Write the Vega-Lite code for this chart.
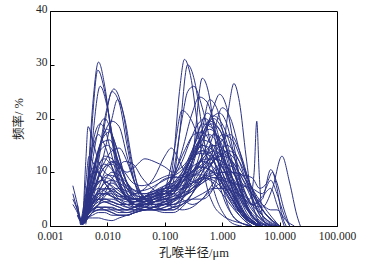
{"$schema":"https://vega.github.io/schema/vega-lite/v6.json","width":287,"height":215,"autosize":"none","padding":{"left":50,"top":11,"right":32,"bottom":46},"config":{"view":{"stroke":"#000","strokeWidth":1},"font":"Liberation Serif, Noto Sans CJK SC","axis":{"grid":false,"domainColor":"#000","tickColor":"#000","labelColor":"#222","titleColor":"#222","labelFont":"Liberation Serif","labelFontSize":11.5,"titleFont":"Liberation Serif, Noto Sans CJK SC","titleFontSize":12.5,"titleFontWeight":"normal"}},"data":{"values":[
{"c":1,"x":0.003,"y":2},{"c":1,"x":0.0037,"y":0.5},{"c":1,"x":0.0045,"y":8},{"c":1,"x":0.0055,"y":22},{"c":1,"x":0.007,"y":30.5},{"c":1,"x":0.009,"y":26},{"c":1,"x":0.012,"y":16},{"c":1,"x":0.016,"y":8},{"c":1,"x":0.022,"y":5},{"c":1,"x":0.03,"y":4},{"c":1,"x":0.045,"y":4.5},{"c":1,"x":0.065,"y":5},{"c":1,"x":0.1,"y":5.5},{"c":1,"x":0.14,"y":6},{"c":1,"x":0.2,"y":8},{"c":1,"x":0.3,"y":10},{"c":1,"x":0.45,"y":11},{"c":1,"x":0.7,"y":10},{"c":1,"x":1,"y":8},{"c":1,"x":1.5,"y":5},{"c":1,"x":2.2,"y":2.5},{"c":1,"x":3.3,"y":0.5},{"c":1,"x":5,"y":0},
{"c":2,"x":0.0037,"y":0.3},{"c":2,"x":0.0045,"y":6},{"c":2,"x":0.0055,"y":20},{"c":2,"x":0.0068,"y":29},{"c":2,"x":0.009,"y":25},{"c":2,"x":0.012,"y":17},{"c":2,"x":0.016,"y":9},{"c":2,"x":0.022,"y":5},{"c":2,"x":0.03,"y":3.5},{"c":2,"x":0.045,"y":3},{"c":2,"x":0.065,"y":3.5},{"c":2,"x":0.1,"y":4},{"c":2,"x":0.14,"y":5},{"c":2,"x":0.2,"y":7},{"c":2,"x":0.3,"y":12},{"c":2,"x":0.45,"y":15},{"c":2,"x":0.7,"y":14},{"c":2,"x":1,"y":10},{"c":2,"x":1.5,"y":6},{"c":2,"x":2.2,"y":3},{"c":2,"x":3.3,"y":1},{"c":2,"x":5,"y":0},
{"c":3,"x":0.003,"y":3},{"c":3,"x":0.0037,"y":1},{"c":3,"x":0.0045,"y":5},{"c":3,"x":0.0055,"y":16},{"c":3,"x":0.0075,"y":26},{"c":3,"x":0.01,"y":22},{"c":3,"x":0.014,"y":13},{"c":3,"x":0.02,"y":7},{"c":3,"x":0.03,"y":5},{"c":3,"x":0.045,"y":5.5},{"c":3,"x":0.065,"y":6},{"c":3,"x":0.1,"y":5},{"c":3,"x":0.14,"y":4},{"c":3,"x":0.2,"y":5},{"c":3,"x":0.3,"y":8},{"c":3,"x":0.45,"y":13},{"c":3,"x":0.7,"y":17},{"c":3,"x":1,"y":16},{"c":3,"x":1.5,"y":11},{"c":3,"x":2.2,"y":6},{"c":3,"x":3.3,"y":2},{"c":3,"x":5,"y":0},
{"c":4,"x":0.0037,"y":0.5},{"c":4,"x":0.0045,"y":3},{"c":4,"x":0.0055,"y":7},{"c":4,"x":0.007,"y":13},{"c":4,"x":0.009,"y":20},{"c":4,"x":0.013,"y":25.5},{"c":4,"x":0.018,"y":22},{"c":4,"x":0.025,"y":13},{"c":4,"x":0.035,"y":7},{"c":4,"x":0.05,"y":5},{"c":4,"x":0.07,"y":5.5},{"c":4,"x":0.1,"y":6},{"c":4,"x":0.14,"y":6},{"c":4,"x":0.2,"y":5},{"c":4,"x":0.3,"y":4},{"c":4,"x":0.45,"y":5},{"c":4,"x":0.7,"y":8},{"c":4,"x":1,"y":10},{"c":4,"x":1.5,"y":9},{"c":4,"x":2.2,"y":6},{"c":4,"x":3.3,"y":3},{"c":4,"x":5,"y":1},{"c":4,"x":7.5,"y":0},
{"c":5,"x":0.004,"y":0.5},{"c":5,"x":0.005,"y":4},{"c":5,"x":0.007,"y":12},{"c":5,"x":0.009,"y":19},{"c":5,"x":0.012,"y":25},{"c":5,"x":0.016,"y":23},{"c":5,"x":0.022,"y":15},{"c":5,"x":0.03,"y":8},{"c":5,"x":0.045,"y":4},{"c":5,"x":0.065,"y":3},{"c":5,"x":0.1,"y":3.5},{"c":5,"x":0.14,"y":4},{"c":5,"x":0.2,"y":5},{"c":5,"x":0.3,"y":7},{"c":5,"x":0.45,"y":9},{"c":5,"x":0.7,"y":8},{"c":5,"x":1,"y":6},{"c":5,"x":1.5,"y":3.5},{"c":5,"x":2.2,"y":1.5},{"c":5,"x":3.3,"y":0},
{"c":6,"x":0.0037,"y":0.2},{"c":6,"x":0.0045,"y":2},{"c":6,"x":0.0055,"y":5},{"c":6,"x":0.007,"y":9},{"c":6,"x":0.009,"y":14},{"c":6,"x":0.012,"y":20},{"c":6,"x":0.015,"y":23.5},{"c":6,"x":0.02,"y":20},{"c":6,"x":0.027,"y":12},{"c":6,"x":0.035,"y":7},{"c":6,"x":0.05,"y":5},{"c":6,"x":0.07,"y":4},{"c":6,"x":0.1,"y":4},{"c":6,"x":0.14,"y":3.5},{"c":6,"x":0.2,"y":3},{"c":6,"x":0.3,"y":3.5},{"c":6,"x":0.45,"y":5},{"c":6,"x":0.7,"y":7},{"c":6,"x":1,"y":8},{"c":6,"x":1.5,"y":6},{"c":6,"x":2.2,"y":3},{"c":6,"x":3.3,"y":1},{"c":6,"x":5,"y":0},
{"c":7,"x":0.0037,"y":0.5},{"c":7,"x":0.0045,"y":4},{"c":7,"x":0.0055,"y":9},{"c":7,"x":0.007,"y":14},{"c":7,"x":0.009,"y":17.5},{"c":7,"x":0.012,"y":19.5},{"c":7,"x":0.016,"y":18.5},{"c":7,"x":0.022,"y":13},{"c":7,"x":0.03,"y":8},{"c":7,"x":0.045,"y":5},{"c":7,"x":0.065,"y":4},{"c":7,"x":0.1,"y":3},{"c":7,"x":0.14,"y":3.5},{"c":7,"x":0.2,"y":6},{"c":7,"x":0.3,"y":12},{"c":7,"x":0.45,"y":16},{"c":7,"x":0.7,"y":15},{"c":7,"x":1,"y":11},{"c":7,"x":1.5,"y":7},{"c":7,"x":2.2,"y":3},{"c":7,"x":3.3,"y":1},{"c":7,"x":5,"y":0},
{"c":8,"x":0.0025,"y":6},{"c":8,"x":0.003,"y":3},{"c":8,"x":0.0036,"y":0.3},{"c":8,"x":0.0042,"y":12},{"c":8,"x":0.0046,"y":18.5},{"c":8,"x":0.0055,"y":16},{"c":8,"x":0.007,"y":12},{"c":8,"x":0.009,"y":10},{"c":8,"x":0.012,"y":9},{"c":8,"x":0.016,"y":7},{"c":8,"x":0.022,"y":5},{"c":8,"x":0.03,"y":4},{"c":8,"x":0.045,"y":4},{"c":8,"x":0.065,"y":5},{"c":8,"x":0.1,"y":6},{"c":8,"x":0.14,"y":7},{"c":8,"x":0.2,"y":9},{"c":8,"x":0.3,"y":11},{"c":8,"x":0.45,"y":12},{"c":8,"x":0.7,"y":11},{"c":8,"x":1,"y":8},{"c":8,"x":1.5,"y":5},{"c":8,"x":2.2,"y":2},{"c":8,"x":3.3,"y":0.5},{"c":8,"x":5,"y":0},
{"c":9,"x":0.0037,"y":0.3},{"c":9,"x":0.0045,"y":5},{"c":9,"x":0.0055,"y":12},{"c":9,"x":0.007,"y":18},{"c":9,"x":0.009,"y":20},{"c":9,"x":0.012,"y":17},{"c":9,"x":0.016,"y":11},{"c":9,"x":0.022,"y":6},{"c":9,"x":0.03,"y":4},{"c":9,"x":0.045,"y":3.5},{"c":9,"x":0.065,"y":4.5},{"c":9,"x":0.1,"y":5},{"c":9,"x":0.14,"y":5},{"c":9,"x":0.2,"y":6},{"c":9,"x":0.3,"y":9},{"c":9,"x":0.45,"y":13},{"c":9,"x":0.7,"y":15},{"c":9,"x":1,"y":13},{"c":9,"x":1.5,"y":9},{"c":9,"x":2.2,"y":5},{"c":9,"x":3.3,"y":2},{"c":9,"x":5,"y":0.5},{"c":9,"x":7.5,"y":0},
{"c":10,"x":0.003,"y":2},{"c":10,"x":0.0037,"y":0.5},{"c":10,"x":0.0045,"y":2},{"c":10,"x":0.0055,"y":3},{"c":10,"x":0.007,"y":3.5},{"c":10,"x":0.009,"y":3},{"c":10,"x":0.012,"y":2.5},{"c":10,"x":0.016,"y":2},{"c":10,"x":0.022,"y":2},{"c":10,"x":0.03,"y":2.5},{"c":10,"x":0.045,"y":3},{"c":10,"x":0.065,"y":3.5},{"c":10,"x":0.1,"y":5},{"c":10,"x":0.14,"y":12},{"c":10,"x":0.18,"y":25},{"c":10,"x":0.22,"y":31},{"c":10,"x":0.28,"y":28},{"c":10,"x":0.38,"y":18},{"c":10,"x":0.5,"y":9},{"c":10,"x":0.7,"y":4},{"c":10,"x":1,"y":2},{"c":10,"x":1.5,"y":1},{"c":10,"x":2.2,"y":0.5},{"c":10,"x":3.3,"y":0},
{"c":11,"x":0.0037,"y":0.5},{"c":11,"x":0.0045,"y":3},{"c":11,"x":0.0055,"y":4.5},{"c":11,"x":0.007,"y":5},{"c":11,"x":0.009,"y":4.5},{"c":11,"x":0.012,"y":4},{"c":11,"x":0.016,"y":3.5},{"c":11,"x":0.022,"y":3},{"c":11,"x":0.03,"y":3.5},{"c":11,"x":0.045,"y":4},{"c":11,"x":0.065,"y":4},{"c":11,"x":0.1,"y":4.5},{"c":11,"x":0.14,"y":8},{"c":11,"x":0.18,"y":17},{"c":11,"x":0.25,"y":30},{"c":11,"x":0.33,"y":27},{"c":11,"x":0.45,"y":18},{"c":11,"x":0.6,"y":10},{"c":11,"x":0.8,"y":5},{"c":11,"x":1.1,"y":2},{"c":11,"x":1.5,"y":0.5},{"c":11,"x":2.2,"y":0},
{"c":12,"x":0.0037,"y":0.5},{"c":12,"x":0.0045,"y":4},{"c":12,"x":0.0055,"y":6},{"c":12,"x":0.007,"y":7},{"c":12,"x":0.009,"y":6.5},{"c":12,"x":0.012,"y":5.5},{"c":12,"x":0.016,"y":4.5},{"c":12,"x":0.022,"y":4},{"c":12,"x":0.03,"y":4},{"c":12,"x":0.045,"y":4.5},{"c":12,"x":0.065,"y":5},{"c":12,"x":0.1,"y":6},{"c":12,"x":0.14,"y":10},{"c":12,"x":0.2,"y":20},{"c":12,"x":0.25,"y":25},{"c":12,"x":0.32,"y":26},{"c":12,"x":0.45,"y":22},{"c":12,"x":0.7,"y":13},{"c":12,"x":1,"y":6},{"c":12,"x":1.5,"y":2},{"c":12,"x":2.2,"y":0.5},{"c":12,"x":3.3,"y":0},
{"c":13,"x":0.0037,"y":0.3},{"c":13,"x":0.0045,"y":2},{"c":13,"x":0.0055,"y":3},{"c":13,"x":0.007,"y":4},{"c":13,"x":0.009,"y":4.5},{"c":13,"x":0.012,"y":4},{"c":13,"x":0.016,"y":3.5},{"c":13,"x":0.022,"y":3},{"c":13,"x":0.03,"y":3},{"c":13,"x":0.045,"y":3.5},{"c":13,"x":0.065,"y":3.5},{"c":13,"x":0.1,"y":3},{"c":13,"x":0.14,"y":3},{"c":13,"x":0.2,"y":5},{"c":13,"x":0.3,"y":12},{"c":13,"x":0.45,"y":27.5},{"c":13,"x":0.6,"y":24},{"c":13,"x":0.8,"y":14},{"c":13,"x":1.1,"y":6},{"c":13,"x":1.5,"y":2},{"c":13,"x":2.2,"y":0.5},{"c":13,"x":3.3,"y":0},
{"c":14,"x":0.0037,"y":0.5},{"c":14,"x":0.0045,"y":1.5},{"c":14,"x":0.0055,"y":2.5},{"c":14,"x":0.007,"y":3},{"c":14,"x":0.009,"y":3},{"c":14,"x":0.012,"y":2.5},{"c":14,"x":0.016,"y":2},{"c":14,"x":0.022,"y":2},{"c":14,"x":0.03,"y":2.5},{"c":14,"x":0.045,"y":3},{"c":14,"x":0.065,"y":3.5},{"c":14,"x":0.1,"y":4},{"c":14,"x":0.14,"y":4},{"c":14,"x":0.2,"y":4.5},{"c":14,"x":0.3,"y":5},{"c":14,"x":0.45,"y":5},{"c":14,"x":0.7,"y":7},{"c":14,"x":1,"y":13},{"c":14,"x":1.3,"y":22},{"c":14,"x":1.6,"y":26.5},{"c":14,"x":2,"y":23},{"c":14,"x":2.6,"y":13},{"c":14,"x":3.3,"y":5},{"c":14,"x":4.2,"y":1},{"c":14,"x":5,"y":0},
{"c":15,"x":0.003,"y":3},{"c":15,"x":0.0037,"y":0.5},{"c":15,"x":0.0045,"y":3},{"c":15,"x":0.0055,"y":5},{"c":15,"x":0.007,"y":6},{"c":15,"x":0.009,"y":6},{"c":15,"x":0.012,"y":5.5},{"c":15,"x":0.016,"y":5},{"c":15,"x":0.022,"y":5},{"c":15,"x":0.03,"y":5},{"c":15,"x":0.045,"y":5.5},{"c":15,"x":0.065,"y":6},{"c":15,"x":0.1,"y":7},{"c":15,"x":0.14,"y":9},{"c":15,"x":0.2,"y":14},{"c":15,"x":0.3,"y":21},{"c":15,"x":0.4,"y":24},{"c":15,"x":0.55,"y":23},{"c":15,"x":0.75,"y":18},{"c":15,"x":1,"y":12},{"c":15,"x":1.5,"y":6},{"c":15,"x":2.2,"y":2},{"c":15,"x":3.3,"y":0.5},{"c":15,"x":5,"y":0},
{"c":16,"x":0.0037,"y":0.2},{"c":16,"x":0.0045,"y":1.5},{"c":16,"x":0.0055,"y":2.5},{"c":16,"x":0.007,"y":3},{"c":16,"x":0.009,"y":3.5},{"c":16,"x":0.012,"y":3.5},{"c":16,"x":0.016,"y":3},{"c":16,"x":0.022,"y":3},{"c":16,"x":0.03,"y":3.5},{"c":16,"x":0.045,"y":4},{"c":16,"x":0.065,"y":4},{"c":16,"x":0.1,"y":4.5},{"c":16,"x":0.14,"y":5},{"c":16,"x":0.2,"y":6},{"c":16,"x":0.3,"y":9},{"c":16,"x":0.45,"y":15},{"c":16,"x":0.7,"y":22},{"c":16,"x":0.9,"y":24.5},{"c":16,"x":1.2,"y":22},{"c":16,"x":1.6,"y":15},{"c":16,"x":2.2,"y":7},{"c":16,"x":3.3,"y":2},{"c":16,"x":5,"y":0},
{"c":17,"x":0.0037,"y":0.3},{"c":17,"x":0.0045,"y":2.5},{"c":17,"x":0.0055,"y":4},{"c":17,"x":0.007,"y":5},{"c":17,"x":0.009,"y":5},{"c":17,"x":0.012,"y":4.5},{"c":17,"x":0.016,"y":4},{"c":17,"x":0.022,"y":4},{"c":17,"x":0.03,"y":4.5},{"c":17,"x":0.045,"y":5},{"c":17,"x":0.065,"y":5.5},{"c":17,"x":0.1,"y":6},{"c":17,"x":0.14,"y":6},{"c":17,"x":0.2,"y":7},{"c":17,"x":0.3,"y":11},{"c":17,"x":0.45,"y":18},{"c":17,"x":0.6,"y":23.5},{"c":17,"x":0.8,"y":22},{"c":17,"x":1.1,"y":16},{"c":17,"x":1.5,"y":9},{"c":17,"x":2.2,"y":3.5},{"c":17,"x":3.3,"y":1},{"c":17,"x":5,"y":0},
{"c":18,"x":0.0037,"y":0.5},{"c":18,"x":0.0045,"y":3},{"c":18,"x":0.0055,"y":5},{"c":18,"x":0.007,"y":6.5},{"c":18,"x":0.009,"y":7},{"c":18,"x":0.012,"y":6.5},{"c":18,"x":0.016,"y":5.5},{"c":18,"x":0.022,"y":5},{"c":18,"x":0.03,"y":5},{"c":18,"x":0.045,"y":5.5},{"c":18,"x":0.065,"y":6},{"c":18,"x":0.1,"y":6.5},{"c":18,"x":0.14,"y":6.5},{"c":18,"x":0.2,"y":7},{"c":18,"x":0.3,"y":8},{"c":18,"x":0.45,"y":11},{"c":18,"x":0.7,"y":17},{"c":18,"x":1,"y":22},{"c":18,"x":1.4,"y":20},{"c":18,"x":2,"y":14},{"c":18,"x":3,"y":7},{"c":18,"x":4.5,"y":2},{"c":18,"x":6.5,"y":0},
{"c":19,"x":0.0037,"y":0.3},{"c":19,"x":0.0045,"y":3},{"c":19,"x":0.0055,"y":5},{"c":19,"x":0.007,"y":6},{"c":19,"x":0.009,"y":6},{"c":19,"x":0.012,"y":5.5},{"c":19,"x":0.016,"y":5},{"c":19,"x":0.022,"y":4.5},{"c":19,"x":0.03,"y":4.5},{"c":19,"x":0.045,"y":5},{"c":19,"x":0.065,"y":5.5},{"c":19,"x":0.1,"y":7},{"c":19,"x":0.14,"y":13},{"c":19,"x":0.2,"y":21.5},{"c":19,"x":0.28,"y":20},{"c":19,"x":0.4,"y":16},{"c":19,"x":0.6,"y":12},{"c":19,"x":0.9,"y":8},{"c":19,"x":1.3,"y":5},{"c":19,"x":2,"y":2.5},{"c":19,"x":3,"y":1},{"c":19,"x":4.5,"y":0},
{"c":20,"x":0.0037,"y":0.5},{"c":20,"x":0.0045,"y":2},{"c":20,"x":0.0055,"y":3},{"c":20,"x":0.007,"y":4},{"c":20,"x":0.009,"y":4.5},{"c":20,"x":0.012,"y":4.5},{"c":20,"x":0.016,"y":4},{"c":20,"x":0.022,"y":3.5},{"c":20,"x":0.03,"y":3.5},{"c":20,"x":0.045,"y":4},{"c":20,"x":0.065,"y":4.5},{"c":20,"x":0.1,"y":5},{"c":20,"x":0.14,"y":5.5},{"c":20,"x":0.2,"y":6},{"c":20,"x":0.3,"y":7},{"c":20,"x":0.45,"y":8},{"c":20,"x":0.7,"y":9},{"c":20,"x":1,"y":9},{"c":20,"x":1.5,"y":8},{"c":20,"x":2.2,"y":6},{"c":20,"x":3,"y":5},{"c":20,"x":3.6,"y":10},{"c":20,"x":4,"y":19.5},{"c":20,"x":4.4,"y":10},{"c":20,"x":5,"y":2},{"c":20,"x":6,"y":0},
{"c":21,"x":0.0037,"y":0.5},{"c":21,"x":0.0045,"y":1.5},{"c":21,"x":0.0055,"y":2},{"c":21,"x":0.007,"y":2.5},{"c":21,"x":0.009,"y":2.5},{"c":21,"x":0.012,"y":2},{"c":21,"x":0.016,"y":2},{"c":21,"x":0.022,"y":2},{"c":21,"x":0.03,"y":2.5},{"c":21,"x":0.045,"y":3},{"c":21,"x":0.065,"y":3},{"c":21,"x":0.1,"y":3},{"c":21,"x":0.14,"y":3.5},{"c":21,"x":0.2,"y":4},{"c":21,"x":0.3,"y":5},{"c":21,"x":0.45,"y":6},{"c":21,"x":0.7,"y":7},{"c":21,"x":1,"y":7},{"c":21,"x":1.5,"y":6.5},{"c":21,"x":2.2,"y":5.5},{"c":21,"x":3.3,"y":4},{"c":21,"x":5,"y":3.5},{"c":21,"x":7.5,"y":7},{"c":21,"x":11,"y":13},{"c":21,"x":15,"y":8},{"c":21,"x":20,"y":2},{"c":21,"x":23,"y":0},
{"c":22,"x":0.004,"y":0.5},{"c":22,"x":0.0045,"y":2},{"c":22,"x":0.0055,"y":3.5},{"c":22,"x":0.007,"y":4.5},{"c":22,"x":0.009,"y":5},{"c":22,"x":0.012,"y":5},{"c":22,"x":0.016,"y":4.5},{"c":22,"x":0.022,"y":4},{"c":22,"x":0.03,"y":4},{"c":22,"x":0.045,"y":4.5},{"c":22,"x":0.065,"y":5},{"c":22,"x":0.1,"y":5},{"c":22,"x":0.14,"y":5},{"c":22,"x":0.2,"y":5.5},{"c":22,"x":0.3,"y":6.5},{"c":22,"x":0.45,"y":8},{"c":22,"x":0.7,"y":10},{"c":22,"x":1,"y":11},{"c":22,"x":1.5,"y":10},{"c":22,"x":2.2,"y":7},{"c":22,"x":3.3,"y":4},{"c":22,"x":5,"y":5},{"c":22,"x":7,"y":10.5},{"c":22,"x":9,"y":8},{"c":22,"x":12,"y":3},{"c":22,"x":15,"y":0},
{"c":23,"x":0.0037,"y":0.5},{"c":23,"x":0.0045,"y":4},{"c":23,"x":0.0055,"y":8},{"c":23,"x":0.007,"y":11},{"c":23,"x":0.009,"y":13},{"c":23,"x":0.012,"y":12.5},{"c":23,"x":0.016,"y":10},{"c":23,"x":0.022,"y":7},{"c":23,"x":0.03,"y":5},{"c":23,"x":0.045,"y":4.5},{"c":23,"x":0.065,"y":5},{"c":23,"x":0.1,"y":5.5},{"c":23,"x":0.14,"y":6},{"c":23,"x":0.2,"y":9},{"c":23,"x":0.3,"y":14},{"c":23,"x":0.45,"y":19},{"c":23,"x":0.7,"y":18},{"c":23,"x":1,"y":14},{"c":23,"x":1.5,"y":8},{"c":23,"x":2.2,"y":3},{"c":23,"x":3.3,"y":1},{"c":23,"x":5,"y":0},
{"c":24,"x":0.003,"y":4},{"c":24,"x":0.0037,"y":0.5},{"c":24,"x":0.0045,"y":5},{"c":24,"x":0.0055,"y":10},{"c":24,"x":0.007,"y":13.5},{"c":24,"x":0.01,"y":15},{"c":24,"x":0.014,"y":13},{"c":24,"x":0.02,"y":9},{"c":24,"x":0.03,"y":6},{"c":24,"x":0.045,"y":5},{"c":24,"x":0.065,"y":4.5},{"c":24,"x":0.1,"y":4.5},{"c":24,"x":0.14,"y":5},{"c":24,"x":0.2,"y":5.5},{"c":24,"x":0.3,"y":6.5},{"c":24,"x":0.45,"y":8.5},{"c":24,"x":0.7,"y":12},{"c":24,"x":1.2,"y":15},{"c":24,"x":1.8,"y":13},{"c":24,"x":2.7,"y":8},{"c":24,"x":4,"y":3},{"c":24,"x":6,"y":0.5},{"c":24,"x":8,"y":0},
{"c":25,"x":0.0037,"y":0.3},{"c":25,"x":0.0045,"y":3},{"c":25,"x":0.0055,"y":6},{"c":25,"x":0.007,"y":9},{"c":25,"x":0.009,"y":11},{"c":25,"x":0.012,"y":12},{"c":25,"x":0.016,"y":11},{"c":25,"x":0.022,"y":10},{"c":25,"x":0.03,"y":11},{"c":25,"x":0.045,"y":12.5},{"c":25,"x":0.065,"y":12},{"c":25,"x":0.1,"y":11},{"c":25,"x":0.14,"y":10},{"c":25,"x":0.2,"y":11},{"c":25,"x":0.3,"y":13},{"c":25,"x":0.45,"y":14},{"c":25,"x":0.7,"y":12},{"c":25,"x":1,"y":9},{"c":25,"x":1.5,"y":5},{"c":25,"x":2.2,"y":2},{"c":25,"x":3.3,"y":0.5},{"c":25,"x":5,"y":0},
{"c":26,"x":0.0037,"y":0.5},{"c":26,"x":0.0045,"y":2.5},{"c":26,"x":0.0055,"y":4},{"c":26,"x":0.007,"y":5.5},{"c":26,"x":0.009,"y":6},{"c":26,"x":0.012,"y":6},{"c":26,"x":0.016,"y":5.5},{"c":26,"x":0.022,"y":5.5},{"c":26,"x":0.03,"y":6},{"c":26,"x":0.045,"y":7},{"c":26,"x":0.065,"y":9},{"c":26,"x":0.1,"y":13},{"c":26,"x":0.13,"y":14.5},{"c":26,"x":0.18,"y":12},{"c":26,"x":0.25,"y":9},{"c":26,"x":0.35,"y":8},{"c":26,"x":0.5,"y":9},{"c":26,"x":0.7,"y":10},{"c":26,"x":1,"y":9},{"c":26,"x":1.5,"y":6},{"c":26,"x":2.2,"y":3},{"c":26,"x":3.3,"y":1},{"c":26,"x":5,"y":0},
{"c":27,"x":0.0025,"y":7.5},{"c":27,"x":0.003,"y":4},{"c":27,"x":0.0035,"y":0.5},{"c":27,"x":0.0045,"y":1.5},{"c":27,"x":0.0055,"y":1.5},{"c":27,"x":0.007,"y":1.5},{"c":27,"x":0.009,"y":1.2},{"c":27,"x":0.012,"y":1},{"c":27,"x":0.016,"y":1.5},{"c":27,"x":0.022,"y":2},{"c":27,"x":0.03,"y":2.5},{"c":27,"x":0.045,"y":3},{"c":27,"x":0.065,"y":3},{"c":27,"x":0.1,"y":3},{"c":27,"x":0.14,"y":3.5},{"c":27,"x":0.2,"y":4},{"c":27,"x":0.3,"y":6},{"c":27,"x":0.45,"y":9},{"c":27,"x":0.7,"y":12},{"c":27,"x":1,"y":13},{"c":27,"x":1.5,"y":12},{"c":27,"x":2.2,"y":9},{"c":27,"x":3.3,"y":5},{"c":27,"x":5,"y":2},{"c":27,"x":7.5,"y":0.5},{"c":27,"x":10,"y":0},
{"c":28,"x":0.0037,"y":0.5},{"c":28,"x":0.0045,"y":2},{"c":28,"x":0.0055,"y":3.5},{"c":28,"x":0.007,"y":5},{"c":28,"x":0.009,"y":7},{"c":28,"x":0.012,"y":8},{"c":28,"x":0.016,"y":7},{"c":28,"x":0.022,"y":5.5},{"c":28,"x":0.03,"y":4},{"c":28,"x":0.045,"y":3.5},{"c":28,"x":0.065,"y":3},{"c":28,"x":0.1,"y":2.5},{"c":28,"x":0.14,"y":2.5},{"c":28,"x":0.2,"y":3.5},{"c":28,"x":0.3,"y":6},{"c":28,"x":0.45,"y":10},{"c":28,"x":0.7,"y":14},{"c":28,"x":1,"y":17},{"c":28,"x":1.5,"y":16},{"c":28,"x":2.2,"y":12},{"c":28,"x":3.3,"y":7},{"c":28,"x":5,"y":3},{"c":28,"x":7.5,"y":1},{"c":28,"x":10,"y":0},
{"c":29,"x":0.0037,"y":0.5},{"c":29,"x":0.0045,"y":7},{"c":29,"x":0.0055,"y":14},{"c":29,"x":0.007,"y":17},{"c":29,"x":0.009,"y":15},{"c":29,"x":0.012,"y":11},{"c":29,"x":0.016,"y":7.5},{"c":29,"x":0.022,"y":5},{"c":29,"x":0.03,"y":4},{"c":29,"x":0.045,"y":4},{"c":29,"x":0.065,"y":4},{"c":29,"x":0.1,"y":4.5},{"c":29,"x":0.14,"y":6},{"c":29,"x":0.2,"y":9},{"c":29,"x":0.3,"y":13},{"c":29,"x":0.45,"y":15},{"c":29,"x":0.6,"y":14},{"c":29,"x":0.8,"y":11},{"c":29,"x":1.1,"y":7},{"c":29,"x":1.5,"y":4},{"c":29,"x":2.2,"y":1.5},{"c":29,"x":3.3,"y":0},
{"c":30,"x":0.0037,"y":0.3},{"c":30,"x":0.0045,"y":2},{"c":30,"x":0.0055,"y":4},{"c":30,"x":0.007,"y":6},{"c":30,"x":0.009,"y":8.5},{"c":30,"x":0.012,"y":10},{"c":30,"x":0.016,"y":9.5},{"c":30,"x":0.022,"y":8},{"c":30,"x":0.03,"y":6.5},{"c":30,"x":0.045,"y":6},{"c":30,"x":0.065,"y":6.5},{"c":30,"x":0.1,"y":7},{"c":30,"x":0.14,"y":8},{"c":30,"x":0.2,"y":10},{"c":30,"x":0.3,"y":12.5},{"c":30,"x":0.45,"y":14},{"c":30,"x":0.7,"y":13},{"c":30,"x":1,"y":11},{"c":30,"x":1.5,"y":8},{"c":30,"x":2.2,"y":5.5},{"c":30,"x":3.3,"y":4},{"c":30,"x":5,"y":5.5},{"c":30,"x":7,"y":7},{"c":30,"x":9,"y":4},{"c":30,"x":12,"y":0},
{"c":31,"x":0.0037,"y":0.5},{"c":31,"x":0.0045,"y":3},{"c":31,"x":0.0055,"y":6},{"c":31,"x":0.007,"y":8},{"c":31,"x":0.009,"y":9},{"c":31,"x":0.012,"y":8.5},{"c":31,"x":0.016,"y":7},{"c":31,"x":0.022,"y":5.5},{"c":31,"x":0.03,"y":5},{"c":31,"x":0.045,"y":5},{"c":31,"x":0.065,"y":5.5},{"c":31,"x":0.1,"y":6},{"c":31,"x":0.14,"y":7},{"c":31,"x":0.2,"y":8.5},{"c":31,"x":0.3,"y":10},{"c":31,"x":0.45,"y":11.5},{"c":31,"x":0.7,"y":12.5},{"c":31,"x":1,"y":12},{"c":31,"x":1.5,"y":10},{"c":31,"x":2.2,"y":8},{"c":31,"x":3.3,"y":6},{"c":31,"x":5,"y":4},{"c":31,"x":7,"y":3},{"c":31,"x":9,"y":3},{"c":31,"x":13,"y":1},{"c":31,"x":18,"y":0},
{"c":32,"x":0.0025,"y":5},{"c":32,"x":0.003,"y":3},{"c":32,"x":0.0036,"y":0.5},{"c":32,"x":0.0042,"y":8},{"c":32,"x":0.0048,"y":13},{"c":32,"x":0.0055,"y":12},{"c":32,"x":0.007,"y":10},{"c":32,"x":0.009,"y":8.5},{"c":32,"x":0.012,"y":7.5},{"c":32,"x":0.016,"y":6.5},{"c":32,"x":0.022,"y":5.5},{"c":32,"x":0.03,"y":5},{"c":32,"x":0.045,"y":5.5},{"c":32,"x":0.065,"y":6},{"c":32,"x":0.1,"y":6},{"c":32,"x":0.14,"y":6.5},{"c":32,"x":0.2,"y":8},{"c":32,"x":0.3,"y":12},{"c":32,"x":0.45,"y":17},{"c":32,"x":0.7,"y":20},{"c":32,"x":1,"y":18},{"c":32,"x":1.5,"y":12},{"c":32,"x":2.2,"y":6},{"c":32,"x":3.3,"y":2},{"c":32,"x":5,"y":0},
{"c":33,"x":0.0037,"y":0.5},{"c":33,"x":0.0045,"y":3},{"c":33,"x":0.0055,"y":6},{"c":33,"x":0.007,"y":9.5},{"c":33,"x":0.009,"y":12},{"c":33,"x":0.012,"y":14},{"c":33,"x":0.016,"y":14.5},{"c":33,"x":0.022,"y":12},{"c":33,"x":0.03,"y":8},{"c":33,"x":0.045,"y":5},{"c":33,"x":0.065,"y":3.5},{"c":33,"x":0.1,"y":3},{"c":33,"x":0.14,"y":3},{"c":33,"x":0.2,"y":4},{"c":33,"x":0.3,"y":6},{"c":33,"x":0.45,"y":9},{"c":33,"x":0.7,"y":12},{"c":33,"x":1,"y":13.5},{"c":33,"x":1.5,"y":12},{"c":33,"x":2.2,"y":9},{"c":33,"x":3.3,"y":6},{"c":33,"x":5,"y":3},{"c":33,"x":7.5,"y":1},{"c":33,"x":10,"y":0},
{"c":34,"x":0.0037,"y":0.3},{"c":34,"x":0.0045,"y":1.5},{"c":34,"x":0.0055,"y":2.5},{"c":34,"x":0.007,"y":3},{"c":34,"x":0.009,"y":3},{"c":34,"x":0.012,"y":3},{"c":34,"x":0.016,"y":3},{"c":34,"x":0.022,"y":3},{"c":34,"x":0.03,"y":3.5},{"c":34,"x":0.045,"y":4},{"c":34,"x":0.065,"y":4.5},{"c":34,"x":0.1,"y":5},{"c":34,"x":0.14,"y":6},{"c":34,"x":0.2,"y":8},{"c":34,"x":0.3,"y":12},{"c":34,"x":0.45,"y":17},{"c":34,"x":0.7,"y":20.5},{"c":34,"x":1,"y":19},{"c":34,"x":1.5,"y":14},{"c":34,"x":2.2,"y":8},{"c":34,"x":3.3,"y":3.5},{"c":34,"x":5,"y":1},{"c":34,"x":7.5,"y":0},
{"c":35,"x":0.0037,"y":0.5},{"c":35,"x":0.0045,"y":4},{"c":35,"x":0.0055,"y":7.5},{"c":35,"x":0.007,"y":10.5},{"c":35,"x":0.009,"y":11.5},{"c":35,"x":0.012,"y":10.5},{"c":35,"x":0.016,"y":8},{"c":35,"x":0.022,"y":6},{"c":35,"x":0.03,"y":5},{"c":35,"x":0.045,"y":5.5},{"c":35,"x":0.065,"y":6.5},{"c":35,"x":0.1,"y":7.5},{"c":35,"x":0.14,"y":8},{"c":35,"x":0.2,"y":9},{"c":35,"x":0.3,"y":9.5},{"c":35,"x":0.45,"y":9.5},{"c":35,"x":0.7,"y":9},{"c":35,"x":1,"y":8.5},{"c":35,"x":1.5,"y":8},{"c":35,"x":2.2,"y":7.5},{"c":35,"x":3.3,"y":7},{"c":35,"x":5,"y":6},{"c":35,"x":7,"y":8.5},{"c":35,"x":9,"y":6},{"c":35,"x":12,"y":2},{"c":35,"x":15,"y":0},
{"c":36,"x":0.0025,"y":4},{"c":36,"x":0.003,"y":2.5},{"c":36,"x":0.0036,"y":0.3},{"c":36,"x":0.0042,"y":5},{"c":36,"x":0.005,"y":10},{"c":36,"x":0.006,"y":11},{"c":36,"x":0.007,"y":10},{"c":36,"x":0.009,"y":8},{"c":36,"x":0.012,"y":6.5},{"c":36,"x":0.016,"y":5},{"c":36,"x":0.022,"y":4},{"c":36,"x":0.03,"y":3.5},{"c":36,"x":0.045,"y":4},{"c":36,"x":0.065,"y":4.5},{"c":36,"x":0.1,"y":5},{"c":36,"x":0.14,"y":5.5},{"c":36,"x":0.2,"y":7},{"c":36,"x":0.3,"y":9},{"c":36,"x":0.45,"y":11},{"c":36,"x":0.7,"y":13},{"c":36,"x":1,"y":14},{"c":36,"x":1.5,"y":13},{"c":36,"x":2.2,"y":10},{"c":36,"x":3.3,"y":6},{"c":36,"x":5,"y":3},{"c":36,"x":7.5,"y":1},{"c":36,"x":10,"y":0},
{"c":37,"x":0.0042,"y":0.3},{"c":37,"x":0.005,"y":5},{"c":37,"x":0.007,"y":14},{"c":37,"x":0.01,"y":18},{"c":37,"x":0.014,"y":15},{"c":37,"x":0.02,"y":9},{"c":37,"x":0.03,"y":5},{"c":37,"x":0.05,"y":4},{"c":37,"x":0.08,"y":5},{"c":37,"x":0.12,"y":6},{"c":37,"x":0.2,"y":9},{"c":37,"x":0.35,"y":15},{"c":37,"x":0.6,"y":18},{"c":37,"x":1,"y":15},{"c":37,"x":1.6,"y":8},{"c":37,"x":2.5,"y":3},{"c":37,"x":4,"y":0},
{"c":38,"x":0.0034,"y":0.2},{"c":38,"x":0.0042,"y":4},{"c":38,"x":0.0055,"y":10},{"c":38,"x":0.008,"y":16},{"c":38,"x":0.011,"y":17.5},{"c":38,"x":0.015,"y":14},{"c":38,"x":0.022,"y":8},{"c":38,"x":0.035,"y":5},{"c":38,"x":0.06,"y":6},{"c":38,"x":0.1,"y":7},{"c":38,"x":0.16,"y":8},{"c":38,"x":0.25,"y":11},{"c":38,"x":0.4,"y":16},{"c":38,"x":0.65,"y":19},{"c":38,"x":1,"y":17},{"c":38,"x":1.6,"y":10},{"c":38,"x":2.5,"y":4},{"c":38,"x":4,"y":1},{"c":38,"x":6,"y":0},
{"c":39,"x":0.0033,"y":0.5},{"c":39,"x":0.004,"y":3},{"c":39,"x":0.005,"y":6},{"c":39,"x":0.007,"y":8},{"c":39,"x":0.01,"y":9.5},{"c":39,"x":0.015,"y":9},{"c":39,"x":0.022,"y":7.5},{"c":39,"x":0.035,"y":6.5},{"c":39,"x":0.055,"y":7},{"c":39,"x":0.08,"y":8},{"c":39,"x":0.12,"y":9},{"c":39,"x":0.18,"y":10},{"c":39,"x":0.27,"y":12},{"c":39,"x":0.4,"y":13.5},{"c":39,"x":0.65,"y":13},{"c":39,"x":1,"y":11},{"c":39,"x":1.6,"y":7},{"c":39,"x":2.5,"y":3.5},{"c":39,"x":4,"y":1},{"c":39,"x":6,"y":0},
{"c":40,"x":0.004,"y":0.5},{"c":40,"x":0.005,"y":2},{"c":40,"x":0.007,"y":4},{"c":40,"x":0.01,"y":6},{"c":40,"x":0.015,"y":7},{"c":40,"x":0.022,"y":6.5},{"c":40,"x":0.035,"y":5.5},{"c":40,"x":0.055,"y":5.5},{"c":40,"x":0.08,"y":6},{"c":40,"x":0.12,"y":7},{"c":40,"x":0.18,"y":9},{"c":40,"x":0.27,"y":13},{"c":40,"x":0.4,"y":17},{"c":40,"x":0.6,"y":19.5},{"c":40,"x":0.9,"y":18},{"c":40,"x":1.3,"y":13},{"c":40,"x":2,"y":7},{"c":40,"x":3,"y":3},{"c":40,"x":4.5,"y":1},{"c":40,"x":6,"y":0},
{"c":41,"x":0.0035,"y":0.3},{"c":41,"x":0.0045,"y":5},{"c":41,"x":0.006,"y":11},{"c":41,"x":0.008,"y":15.5},{"c":41,"x":0.011,"y":16},{"c":41,"x":0.015,"y":12.5},{"c":41,"x":0.022,"y":8},{"c":41,"x":0.035,"y":5},{"c":41,"x":0.055,"y":4},{"c":41,"x":0.08,"y":4},{"c":41,"x":0.12,"y":4.5},{"c":41,"x":0.18,"y":6},{"c":41,"x":0.27,"y":9},{"c":41,"x":0.4,"y":12},{"c":41,"x":0.6,"y":12.5},{"c":41,"x":0.9,"y":10},{"c":41,"x":1.3,"y":6},{"c":41,"x":2,"y":3},{"c":41,"x":3,"y":1},{"c":41,"x":4,"y":0},
{"c":42,"x":0.0038,"y":0.5},{"c":42,"x":0.0048,"y":3},{"c":42,"x":0.006,"y":5},{"c":42,"x":0.008,"y":6.5},{"c":42,"x":0.011,"y":7},{"c":42,"x":0.016,"y":6},{"c":42,"x":0.022,"y":5},{"c":42,"x":0.035,"y":4.5},{"c":42,"x":0.055,"y":5},{"c":42,"x":0.08,"y":6},{"c":42,"x":0.12,"y":7},{"c":42,"x":0.18,"y":8},{"c":42,"x":0.27,"y":9},{"c":42,"x":0.4,"y":10},{"c":42,"x":0.6,"y":11.5},{"c":42,"x":0.9,"y":13},{"c":42,"x":1.3,"y":14},{"c":42,"x":2,"y":12},{"c":42,"x":3,"y":8},{"c":42,"x":4.5,"y":4},{"c":42,"x":6.5,"y":1.5},{"c":42,"x":9,"y":0},
{"c":43,"x":0.0034,"y":0.5},{"c":43,"x":0.004,"y":2},{"c":43,"x":0.005,"y":3},{"c":43,"x":0.007,"y":3.5},{"c":43,"x":0.01,"y":3.5},{"c":43,"x":0.015,"y":3},{"c":43,"x":0.022,"y":2.5},{"c":43,"x":0.035,"y":3},{"c":43,"x":0.055,"y":4},{"c":43,"x":0.08,"y":5},{"c":43,"x":0.12,"y":6},{"c":43,"x":0.18,"y":8},{"c":43,"x":0.27,"y":12},{"c":43,"x":0.4,"y":18},{"c":43,"x":0.55,"y":21},{"c":43,"x":0.75,"y":19},{"c":43,"x":1,"y":14},{"c":43,"x":1.5,"y":7},{"c":43,"x":2.2,"y":2.5},{"c":43,"x":3.3,"y":0.5},{"c":43,"x":4.5,"y":0},
{"c":44,"x":0.0036,"y":0.5},{"c":44,"x":0.0045,"y":4},{"c":44,"x":0.0055,"y":8},{"c":44,"x":0.007,"y":11.5},{"c":44,"x":0.009,"y":12.5},{"c":44,"x":0.012,"y":11},{"c":44,"x":0.016,"y":8},{"c":44,"x":0.022,"y":5.5},{"c":44,"x":0.03,"y":4},{"c":44,"x":0.045,"y":4},{"c":44,"x":0.065,"y":5},{"c":44,"x":0.1,"y":7},{"c":44,"x":0.15,"y":10},{"c":44,"x":0.22,"y":14},{"c":44,"x":0.32,"y":17},{"c":44,"x":0.45,"y":17.5},{"c":44,"x":0.65,"y":15},{"c":44,"x":0.9,"y":11},{"c":44,"x":1.3,"y":7},{"c":44,"x":2,"y":3},{"c":44,"x":3,"y":1},{"c":44,"x":4.5,"y":0},
{"c":45,"x":0.0035,"y":1},{"c":45,"x":0.0042,"y":6},{"c":45,"x":0.005,"y":9.5},{"c":45,"x":0.0065,"y":10},{"c":45,"x":0.009,"y":8},{"c":45,"x":0.012,"y":6},{"c":45,"x":0.016,"y":4.5},{"c":45,"x":0.022,"y":3.5},{"c":45,"x":0.03,"y":3},{"c":45,"x":0.045,"y":3},{"c":45,"x":0.065,"y":3.5},{"c":45,"x":0.1,"y":4},{"c":45,"x":0.15,"y":5},{"c":45,"x":0.22,"y":7},{"c":45,"x":0.32,"y":10},{"c":45,"x":0.5,"y":13},{"c":45,"x":0.75,"y":15},{"c":45,"x":1.1,"y":14},{"c":45,"x":1.6,"y":11},{"c":45,"x":2.3,"y":7},{"c":45,"x":3.3,"y":4},{"c":45,"x":5,"y":2},{"c":45,"x":7,"y":0.5},{"c":45,"x":9,"y":0},
{"c":46,"x":0.004,"y":0.5},{"c":46,"x":0.005,"y":3},{"c":46,"x":0.007,"y":7},{"c":46,"x":0.01,"y":11},{"c":46,"x":0.014,"y":12},{"c":46,"x":0.02,"y":10},{"c":46,"x":0.028,"y":8},{"c":46,"x":0.04,"y":7.5},{"c":46,"x":0.06,"y":8},{"c":46,"x":0.09,"y":9},{"c":46,"x":0.13,"y":9.5},{"c":46,"x":0.18,"y":9},{"c":46,"x":0.25,"y":9.5},{"c":46,"x":0.35,"y":11},{"c":46,"x":0.5,"y":13},{"c":46,"x":0.75,"y":14},{"c":46,"x":1.1,"y":12},{"c":46,"x":1.6,"y":8},{"c":46,"x":2.4,"y":4},{"c":46,"x":3.5,"y":1.5},{"c":46,"x":5,"y":0},
{"c":47,"x":0.0034,"y":0.3},{"c":47,"x":0.0042,"y":2},{"c":47,"x":0.0055,"y":4},{"c":47,"x":0.007,"y":5},{"c":47,"x":0.009,"y":5},{"c":47,"x":0.012,"y":4.5},{"c":47,"x":0.016,"y":4},{"c":47,"x":0.022,"y":4},{"c":47,"x":0.03,"y":4.5},{"c":47,"x":0.045,"y":5.5},{"c":47,"x":0.065,"y":7},{"c":47,"x":0.09,"y":8.5},{"c":47,"x":0.12,"y":9},{"c":47,"x":0.16,"y":9},{"c":47,"x":0.22,"y":10},{"c":47,"x":0.3,"y":13},{"c":47,"x":0.42,"y":16},{"c":47,"x":0.6,"y":17},{"c":47,"x":0.85,"y":15},{"c":47,"x":1.2,"y":10},{"c":47,"x":1.7,"y":5},{"c":47,"x":2.5,"y":2},{"c":47,"x":3.5,"y":0.5},{"c":47,"x":5,"y":0},
{"c":48,"x":0.0037,"y":0.5},{"c":48,"x":0.0045,"y":2.5},{"c":48,"x":0.0055,"y":4.5},{"c":48,"x":0.007,"y":6.5},{"c":48,"x":0.009,"y":8},{"c":48,"x":0.012,"y":8.5},{"c":48,"x":0.016,"y":8},{"c":48,"x":0.022,"y":7},{"c":48,"x":0.03,"y":6},{"c":48,"x":0.045,"y":6},{"c":48,"x":0.065,"y":6.5},{"c":48,"x":0.1,"y":7},{"c":48,"x":0.14,"y":7},{"c":48,"x":0.2,"y":7.5},{"c":48,"x":0.3,"y":8},{"c":48,"x":0.45,"y":9},{"c":48,"x":0.7,"y":10.5},{"c":48,"x":1,"y":11.5},{"c":48,"x":1.5,"y":11},{"c":48,"x":2.2,"y":9.5},{"c":48,"x":3.3,"y":7},{"c":48,"x":5,"y":4},{"c":48,"x":7.5,"y":1.5},{"c":48,"x":10,"y":0},
{"c":49,"x":0.0036,"y":0.3},{"c":49,"x":0.0043,"y":3},{"c":49,"x":0.0052,"y":6},{"c":49,"x":0.0065,"y":8},{"c":49,"x":0.008,"y":8.5},{"c":49,"x":0.01,"y":8},{"c":49,"x":0.014,"y":6.5},{"c":49,"x":0.02,"y":5},{"c":49,"x":0.03,"y":4.5},{"c":49,"x":0.045,"y":5},{"c":49,"x":0.065,"y":6},{"c":49,"x":0.1,"y":7.5},{"c":49,"x":0.14,"y":9},{"c":49,"x":0.2,"y":12},{"c":49,"x":0.28,"y":16},{"c":49,"x":0.38,"y":19},{"c":49,"x":0.5,"y":20},{"c":49,"x":0.7,"y":18},{"c":49,"x":1,"y":13},{"c":49,"x":1.4,"y":8},{"c":49,"x":2,"y":4},{"c":49,"x":3,"y":1},{"c":49,"x":4.5,"y":0},
{"c":50,"x":0.0037,"y":0.3},{"c":50,"x":0.0045,"y":2},{"c":50,"x":0.0055,"y":3.5},{"c":50,"x":0.007,"y":5},{"c":50,"x":0.009,"y":6},{"c":50,"x":0.012,"y":6.5},{"c":50,"x":0.016,"y":6},{"c":50,"x":0.022,"y":5},{"c":50,"x":0.03,"y":4},{"c":50,"x":0.045,"y":3.5},{"c":50,"x":0.065,"y":3.5},{"c":50,"x":0.1,"y":4},{"c":50,"x":0.14,"y":4.5},{"c":50,"x":0.2,"y":5.5},{"c":50,"x":0.3,"y":7},{"c":50,"x":0.45,"y":8.5},{"c":50,"x":0.7,"y":9.5},{"c":50,"x":1,"y":10},{"c":50,"x":1.5,"y":10},{"c":50,"x":2.2,"y":9.5},{"c":50,"x":3.3,"y":9},{"c":50,"x":4.5,"y":7},{"c":50,"x":6,"y":8},{"c":50,"x":7.5,"y":10},{"c":50,"x":9,"y":7},{"c":50,"x":11,"y":2},{"c":50,"x":13,"y":0},
{"c":51,"x":0.0035,"y":0.5},{"c":51,"x":0.0042,"y":5},{"c":51,"x":0.005,"y":12},{"c":51,"x":0.006,"y":17},{"c":51,"x":0.0075,"y":19},{"c":51,"x":0.009,"y":18},{"c":51,"x":0.012,"y":13},{"c":51,"x":0.016,"y":8},{"c":51,"x":0.022,"y":5},{"c":51,"x":0.03,"y":3.5},{"c":51,"x":0.045,"y":3},{"c":51,"x":0.065,"y":3},{"c":51,"x":0.1,"y":3.5},{"c":51,"x":0.14,"y":4.5},{"c":51,"x":0.2,"y":6},{"c":51,"x":0.3,"y":8},{"c":51,"x":0.45,"y":9},{"c":51,"x":0.7,"y":8.5},{"c":51,"x":1,"y":7},{"c":51,"x":1.5,"y":4.5},{"c":51,"x":2.2,"y":2},{"c":51,"x":3.3,"y":0.5},{"c":51,"x":5,"y":0},
{"c":52,"x":0.0039,"y":0.5},{"c":52,"x":0.005,"y":2},{"c":52,"x":0.007,"y":4},{"c":52,"x":0.01,"y":7},{"c":52,"x":0.014,"y":10},{"c":52,"x":0.02,"y":12},{"c":52,"x":0.028,"y":11.5},{"c":52,"x":0.04,"y":9},{"c":52,"x":0.06,"y":7},{"c":52,"x":0.09,"y":6},{"c":52,"x":0.13,"y":6.5},{"c":52,"x":0.19,"y":8},{"c":52,"x":0.28,"y":10},{"c":52,"x":0.4,"y":11},{"c":52,"x":0.6,"y":10.5},{"c":52,"x":0.9,"y":8.5},{"c":52,"x":1.3,"y":6},{"c":52,"x":2,"y":3},{"c":52,"x":3,"y":1},{"c":52,"x":4.5,"y":0},
{"c":53,"x":0.0036,"y":0.2},{"c":53,"x":0.0044,"y":3},{"c":53,"x":0.0055,"y":6},{"c":53,"x":0.007,"y":9},{"c":53,"x":0.009,"y":11},{"c":53,"x":0.012,"y":11.5},{"c":53,"x":0.016,"y":10},{"c":53,"x":0.022,"y":7},{"c":53,"x":0.03,"y":5},{"c":53,"x":0.045,"y":4.5},{"c":53,"x":0.065,"y":5.5},{"c":53,"x":0.1,"y":7},{"c":53,"x":0.14,"y":7.5},{"c":53,"x":0.2,"y":7},{"c":53,"x":0.3,"y":7.5},{"c":53,"x":0.45,"y":10},{"c":53,"x":0.7,"y":13},{"c":53,"x":1,"y":16},{"c":53,"x":1.4,"y":17},{"c":53,"x":2,"y":14},{"c":53,"x":3,"y":8},{"c":53,"x":4.5,"y":3},{"c":53,"x":6.5,"y":0.5},{"c":53,"x":9,"y":0},
{"c":54,"x":0.0036,"y":0.5},{"c":54,"x":0.0044,"y":2},{"c":54,"x":0.0055,"y":3},{"c":54,"x":0.007,"y":3.5},{"c":54,"x":0.009,"y":3.5},{"c":54,"x":0.012,"y":3},{"c":54,"x":0.016,"y":2.5},{"c":54,"x":0.022,"y":2.5},{"c":54,"x":0.03,"y":3},{"c":54,"x":0.045,"y":4},{"c":54,"x":0.065,"y":5},{"c":54,"x":0.1,"y":6},{"c":54,"x":0.14,"y":7},{"c":54,"x":0.2,"y":9},{"c":54,"x":0.3,"y":12},{"c":54,"x":0.45,"y":16},{"c":54,"x":0.65,"y":20},{"c":54,"x":0.9,"y":21},{"c":54,"x":1.2,"y":19},{"c":54,"x":1.7,"y":12},{"c":54,"x":2.4,"y":5},{"c":54,"x":3.3,"y":1.5},{"c":54,"x":4.5,"y":0}
]},"mark":{"type":"line","interpolate":"monotone","color":"#2c3385","strokeWidth":1,"clip":true},"encoding":{"x":{"field":"x","type":"quantitative","scale":{"type":"log","domain":[0.001,100]},"axis":{"values":[0.001,0.01,0.1,1,10,100],"format":".3f","title":"孔喉半径/μm","tickSize":-4,"labelPadding":8,"titlePadding":5,"labelFlush":false}},"y":{"field":"y","type":"quantitative","scale":{"domain":[0,40]},"axis":{"values":[0,10,20,30,40],"title":"频率/ %","tickSize":-4,"labelPadding":7,"labelOffset":-2,"titlePadding":10}},"detail":{"field":"c","type":"nominal"}}}
